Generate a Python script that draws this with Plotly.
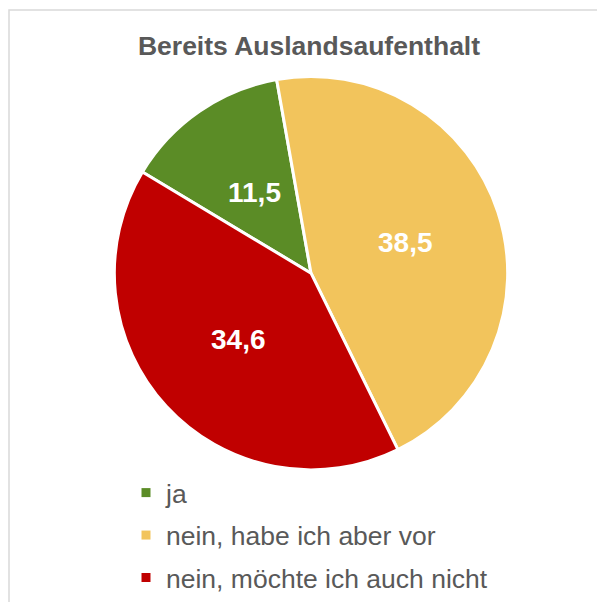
import math
import plotly.graph_objects as go

labels = ["ja", "nein, habe ich aber vor", "nein, möchte ich auch nicht"]
values = [11.5, 38.5, 34.6]
colors = ["#5b8c26", "#f2c45c", "#c00000"]

# page has an 8px body margin, so the figure is shifted by 8px
W, H = 597, 594
FONT = "Liberation Sans, Arial"

# pie box in figure pixels
PIE_L, PIE_R, PIE_T, PIE_B = 105, 501, 69, 465
START = -59  # degrees, clockwise from 12 o'clock

fig = go.Figure()

fig.add_trace(
    go.Pie(
        labels=labels,
        values=values,
        sort=False,
        direction="clockwise",
        rotation=START,
        marker=dict(colors=colors, line=dict(color="white", width=3)),
        textinfo="none",
        hoverinfo="label+value",
        showlegend=False,
        domain=dict(x=[PIE_L / W, PIE_R / W], y=[1 - PIE_B / H, 1 - PIE_T / H]),
    )
)

# data labels at half radius on each slice's bisector
cx, cy = (PIE_L + PIE_R) / 2, (PIE_T + PIE_B) / 2
rad = (PIE_R - PIE_L) / 2
total = sum(values)
annotations = []
acc = 0
for v in values:
    mid = math.radians(START + 360 * (acc + v / 2) / total)
    acc += v
    px = cx + 0.5 * rad * math.sin(mid)
    py = cy - 0.5 * rad * math.cos(mid)
    annotations.append(
        dict(
            x=px / W,
            y=1 - py / H,
            xref="paper",
            yref="paper",
            xanchor="center",
            yanchor="middle",
            text=f"<b>{v:.1f}</b>".replace(".", ","),
            showarrow=False,
            font=dict(family=FONT, size=28, color="white"),
        )
    )

# legend entries, one group each so the gap between them can be set
for lab, col in zip(labels, colors):
    fig.add_trace(
        go.Scatter(
            x=[None],
            y=[None],
            mode="markers",
            name=lab,
            legendgroup=lab,
            marker=dict(symbol="square", size=9, color=col),
            hoverinfo="skip",
        )
    )

# chart frame: only top and left edges are inside the window
fx, fy = 1 / W, 1 - 2 / H
frame = f"M {fx},-0.1 L {fx},{fy} L 1.1,{fy}"

fig.update_layout(
    width=W,
    height=H,
    margin=dict(l=0, r=0, t=0, b=0),
    paper_bgcolor="white",
    plot_bgcolor="white",
    separators=",.",
    font=dict(family=FONT, color="#595959"),
    xaxis=dict(visible=False),
    yaxis=dict(visible=False),
    title=dict(
        text="<b>Bereits Auslandsaufenthalt</b>",
        x=301 / W,
        xanchor="center",
        y=1 - 38 / H,
        yanchor="middle",
        font=dict(size=26.5, color="#595959"),
    ),
    legend=dict(
        x=118 / W,
        xanchor="left",
        y=1 - 464 / H,
        yanchor="top",
        traceorder="grouped",
        tracegroupgap=5,
        font=dict(size=26.5, color="#595959"),
        itemwidth=30,
        bgcolor="rgba(0,0,0,0)",
    ),
    annotations=annotations,
    shapes=[
        dict(
            type="path",
            xref="paper",
            yref="paper",
            path=frame,
            line=dict(color="#d9d9d9", width=1.5),
            layer="below",
        )
    ],
)

fig.write_html("out.html")
